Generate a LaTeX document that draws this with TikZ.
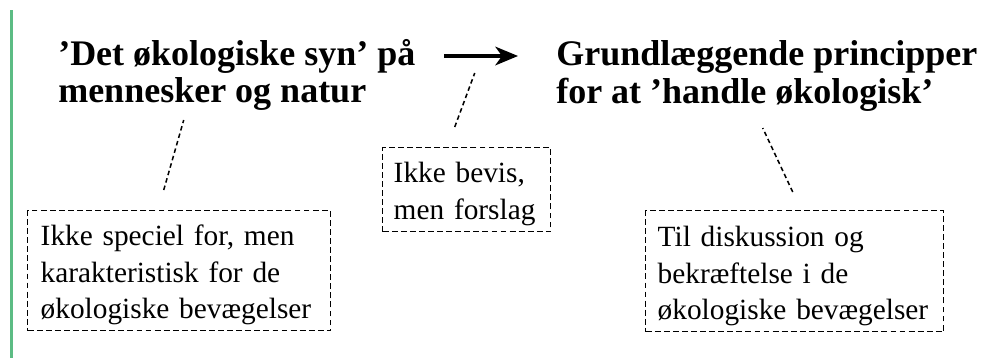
\documentclass[tikz,border=0pt]{standalone}
\usepackage{fontspec}
\setmainfont{Liberation Serif}
\usepackage{xcolor}
\usepackage{tikz}
\usetikzlibrary{calc, arrows.meta, positioning}
\definecolor{bargreen}{RGB}{92,188,132}
\tikzset{
    titlenode/.style = {draw=none, fill=none, rectangle, inner sep=0em, align=left, 
      font=\fontsize{27}{28.1}\selectfont\bfseries},
    notenode/.style = {draw, rectangle, dash pattern=on 4.4pt off 2.4pt, line width=1.1pt, 
      align=left, inner ysep=0pt, anchor=north west, font=\fontsize{22}{27.3}\selectfont},
    pointer/.style = {black, dash pattern=on 3.4pt off 2.4pt, line width=1.15pt},
    connect/.style = {black, line width=2.4pt, -{Stealth[length=17pt, width=14pt, inset=5pt]}},
    greenbar/.style = {bargreen, line width=1.6pt}
}
\begin{document}
\begin{tikzpicture}[x=0.75pt, y=-0.75pt]
    \useasboundingbox (0,0) rectangle (982,358);
    \draw [greenbar] (11.5,10) -- (11.5,358);

    % overskrifter
    \node [name=syn, titlenode, anchor=base west] at (58,102.5) {'Det økologiske syn' på\\mennesker og natur};
    \node [name=princip, titlenode, anchor=base west] at (556,103) {Grundlæggende principper\\for at 'handle økologisk'};

    \coordinate (pilfra) at (444,56);
    \coordinate (piltil) at (518,56);
    \draw [connect] (pilfra) -- (piltil);

    % bemaerkninger
    \node [name=note1, notenode, text width=207.75pt, inner xsep=9.75pt, 
        text height=26.25pt, text depth=63.75pt] at (27,210) 
        {Ikke speciel for, men\\karakteristisk for de\\økologiske bevægelser};
    \node [name=note2, notenode, text width=109.5pt, inner xsep=8.25pt, 
        text height=26.25pt, text depth=36.75pt] at (382,147) 
        {Ikke bevis,\\men forslag};
    \node [name=note3, notenode, text width=205.5pt, inner xsep=9pt, 
        text height=27pt, text depth=63.75pt] at (645,210) 
        {Til diskussion og\\bekræftelse i de\\økologiske bevægelser};

    \draw [pointer] ($(note1.north)+(-15.5,-20)$) -- ($(note1.north)+(4.5,-90)$);
    \draw [pointer] ($(note2.north)+(-12,-20)$) -- ($(note2.north)+(8,-74)$);
    \draw [pointer] ($(note3.north)+(-2,-18)$) -- ($(note3.north)+(-32,-82)$);
\end{tikzpicture}
\end{document}
